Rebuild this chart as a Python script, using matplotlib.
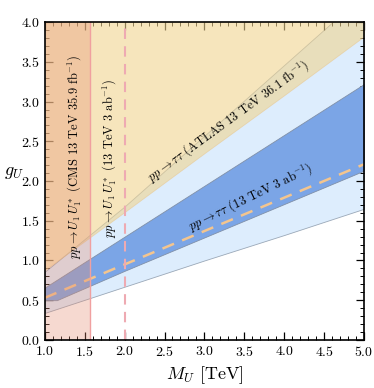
import matplotlib
matplotlib.use('Agg')
import matplotlib.pyplot as plt
from matplotlib.ticker import MultipleLocator

plt.rcParams['font.family'] = 'serif'
plt.rcParams['font.serif'] = ['cmr10']
plt.rcParams['mathtext.fontset'] = 'cm'
plt.rcParams['axes.formatter.use_mathtext'] = True

# limits on g_U vs M_U
m = [1.0, 2.0, 3.0, 4.0, 5.0]
atlas_low = [0.88, 1.61, 2.35, 3.08, 3.82]     # ATLAS 36.1 fb-1 exclusion
hl_up = [0.86, 1.68, 2.57, 3.46, 4.35]         # HL-LHC tautau band, upper
hl_low = [0.34, 0.67, 1.00, 1.32, 1.65]        # HL-LHC tautau band, lower
m_kink = [1.0, 1.15, 2.0, 3.0, 4.0, 5.0]
band_up = [0.66, 0.756, 1.30, 1.94, 2.58, 3.22]  # inner band upper
band_low = [0.50, 0.50, 0.87, 1.29, 1.71, 2.13]  # inner band lower
central = [0.53, 0.95, 1.37, 1.79, 2.21]
cms_mass = 1.565
hl_pair_mass = 2.0

fig = plt.figure(figsize=(3.74, 3.88), dpi=100)
ax = fig.add_axes([0.120, 0.124, 0.853, 0.819])

ax.fill_between(m, hl_low, hl_up, color='#ddedfd', lw=0.6, edgecolor='#9aa8b8', zorder=1)
ax.fill_between(m_kink, band_low, band_up, color='#7ba5e6',
                lw=0.6, edgecolor='#8090a8', zorder=2)
ax.fill_between(m, atlas_low, [4.5] * len(m), color='#f0d490', alpha=0.6, lw=0.6,
                edgecolor='#e8c890', zorder=3)
ax.plot(m, central, color='#f4c58e', lw=1.8, dashes=(5, 3.5), zorder=4)
ax.axvspan(1.0, cms_mass, color='#e48a6e', alpha=0.32, lw=0, zorder=5)
ax.axvline(cms_mass, color='#f0a0a0', lw=1.0, zorder=6)
ax.axvline(hl_pair_mass, color='#eeaab2', lw=1.5, dashes=(5, 3.5), zorder=6)

fs = 9
ax.text(1.37, 2.31, r'$pp\to U_1\,U_1^*$ (CMS 13 TeV 35.9 fb$^{-1}$)', rotation=90,
        ha='center', va='center', fontsize=fs, zorder=7)
ax.text(1.81, 2.29, r'$pp\to U_1\,U_1^*$ (13 TeV 3 ab$^{-1}$)', rotation=90,
        ha='center', va='center', fontsize=fs, zorder=7)
ax.text(3.30, 2.75, r'$pp\to\tau\tau$ (ATLAS 13 TeV 36.1 fb$^{-1}$)', rotation=36,
        ha='center', va='center', fontsize=fs, zorder=7, rotation_mode='anchor')
ax.text(3.58, 1.80, r'$pp\to\tau\tau$ (13 TeV 3 ab$^{-1}$)', rotation=26,
        ha='center', va='center', fontsize=fs, zorder=7, rotation_mode='anchor')

ax.set_xlim(1.0, 5.0)
ax.set_ylim(0.0, 4.0)
ax.xaxis.set_major_locator(MultipleLocator(0.5))
ax.xaxis.set_minor_locator(MultipleLocator(0.1))
ax.yaxis.set_major_locator(MultipleLocator(0.5))
ax.yaxis.set_minor_locator(MultipleLocator(0.1))
ax.tick_params(which='both', direction='in', top=True, right=True, labelsize=10)
ax.tick_params(which='major', length=6, width=0.9)
ax.tick_params(which='minor', length=3, width=0.7)
ax.set_xlabel(r'$M_U$ [TeV]', fontsize=13)
ax.set_ylabel(r'$g_U$', fontsize=13, rotation=0)
ax.yaxis.set_label_coords(-0.095, 0.5)
for s in ax.spines.values():
    s.set_linewidth(1.2)
    s.set_zorder(10)

fig.savefig('out.png', dpi=100)
